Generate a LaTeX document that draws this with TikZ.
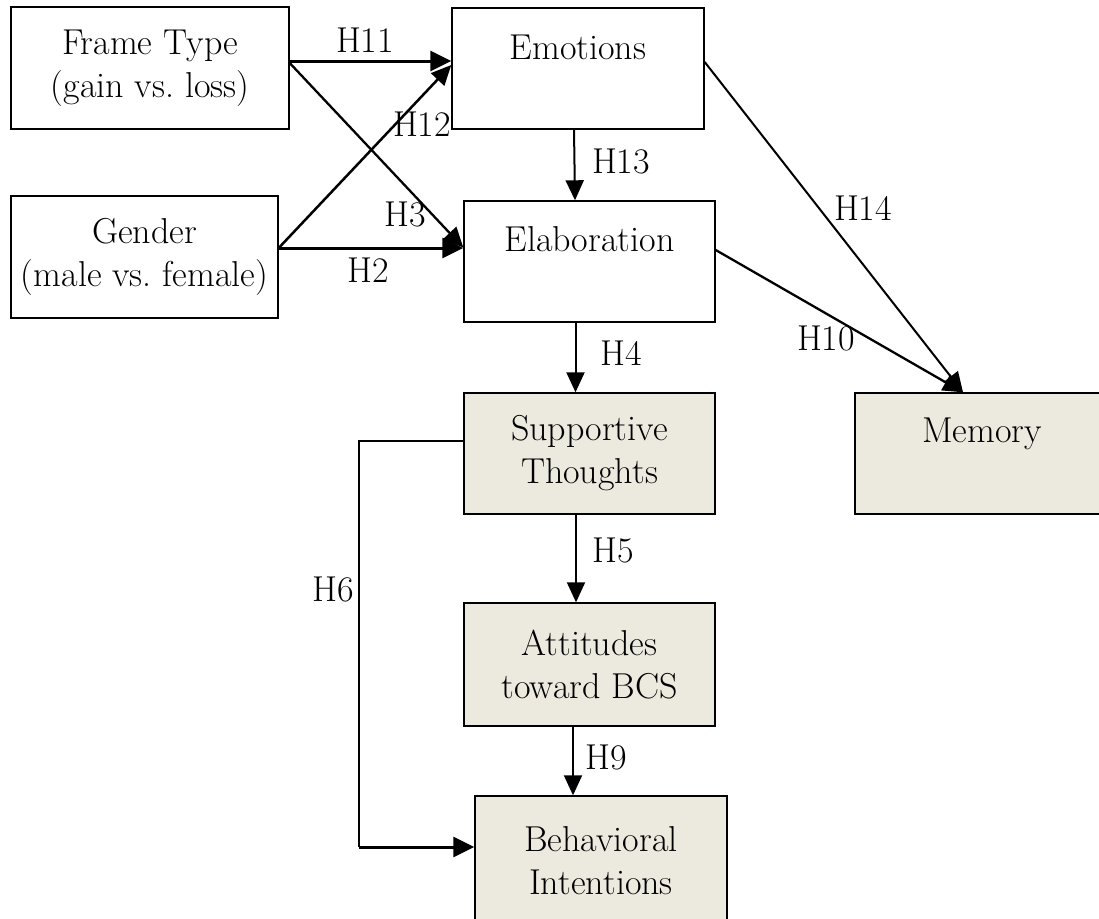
\documentclass[tikz,border=0pt]{standalone}
\usetikzlibrary{arrows.meta}
\definecolor{boxfill}{RGB}{236,233,223}
\begin{document}
\begin{tikzpicture}[x=1pt,y=-1pt,
  font=\fontsize{36}{43}\selectfont,
  box/.style={draw=black, line width=1.4pt, rectangle, inner sep=0pt, align=center},
  shaded/.style={box, fill=boxfill},
  lab/.style={inner sep=0pt, anchor=center},
  arr/.style={line width=2pt, -{Triangle[length=20pt,width=18pt]}},
  thickarr/.style={line width=3pt, -{Triangle[length=21pt,width=20pt]}}
]
\useasboundingbox (0,0) rectangle (1099,918);
\begin{scope}
\clip (0,0) rectangle (1099,918);
% boxes
\node[box, minimum width=278pt, minimum height=122pt] (frame) at (150,68) {Frame Type\\(gain vs.\ loss)};
\node[box, minimum width=267pt, minimum height=122pt] (gender) at (144.5,257) {Gender\\(male vs.\ female)};
\node[box, minimum width=252pt, text height=51pt, text depth=70pt, text width=252pt] (emo) at (578,68.5) {Emotions};
\node[box, minimum width=251pt, text height=50pt, text depth=71pt, text width=251pt] (elab) at (589.5,261.5) {Elaboration};
\node[shaded, minimum width=251pt, minimum height=121pt] (supp) at (589.5,453.5) {Supportive\\Thoughts};
\node[shaded, minimum width=254pt, text height=49pt, text depth=72pt, text width=254pt] (mem) at (982,453.5) {Memory};
\node[shaded, minimum width=251pt, minimum height=123pt] (att) at (589.5,664.5) {Attitudes\\toward BCS};
\node[shaded, minimum width=252pt, minimum height=130pt] (beh) at (601,861) {Behavioral\\Intentions};
\end{scope}
% coordinates for H6 path
\coordinate (h6a) at (359,441);
\coordinate (h6b) at (359,847);
% connectors
\draw[thickarr] ([yshift=7pt]frame.east) -- ([yshift=7pt]frame.east -| emo.west);
\draw[arr, line width=2.3pt] ([yshift=5pt]frame.east) -- ([yshift=14pt]elab.west);
\draw[arr, line width=2.5pt] ([yshift=9pt]gender.east) -- ([yshift=3.5pt]emo.west);
\draw[thickarr] ([yshift=9pt]gender.east) -- ([yshift=9pt]gender.east -| elab.west);
\draw[arr] ([xshift=-4pt]emo.south) -- ([xshift=-14.5pt]elab.north);
\draw[arr] ([xshift=-14pt]elab.south) -- ([xshift=-14pt]supp.north);
\draw[arr] ([xshift=-13.5pt]supp.south) -- ([xshift=-13.5pt]att.north);
\draw[arr] ([xshift=-16.5pt]att.south) -- ([xshift=-28pt]beh.north);
\draw[arr] ([yshift=6.5pt]emo.east) -- ([xshift=-19pt]mem.north);
\draw[arr, line width=2.3pt] ([yshift=11.5pt]elab.east) -- ([xshift=-19pt]mem.north);
\draw[line width=1.8pt] ([yshift=12.5pt]supp.west) -- (h6a) -- (h6b);
\draw[thickarr] (h6b) -- (h6b -| beh.west);
% labels
\node[lab] (l11) at (365,40) {H11};
\node[lab] (l12) at (422,124) {H12};
\node[lab] (l3) at (405,214) {H3};
\node[lab] (l2) at (368,270) {H2};
\node[lab] (l13) at (621,161) {H13};
\node[lab] (l14) at (863,208) {H14};
\node[lab] (l10) at (826,338) {H10};
\node[lab] (l4) at (621,353) {H4};
\node[lab] (l5) at (613,550) {H5};
\node[lab] (l6) at (333,589) {H6};
\node[lab] (l9) at (606,757) {H9};
\end{tikzpicture}
\end{document}
